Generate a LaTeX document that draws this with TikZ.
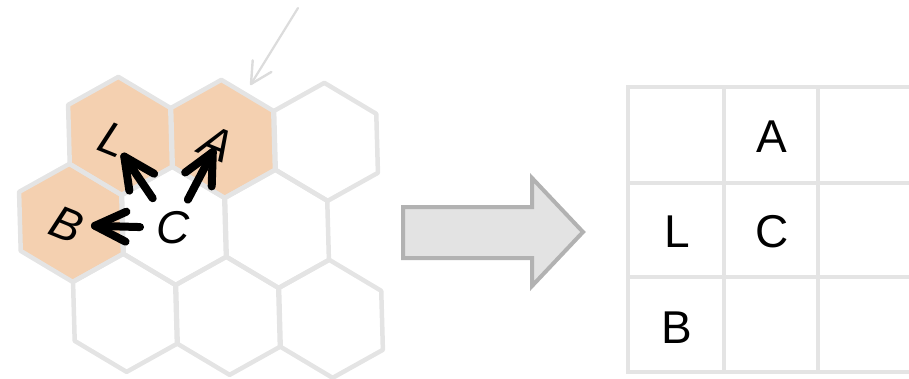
\documentclass[tikz,border=0pt]{standalone}
\usepackage{fontspec}
\setmainfont{Liberation Sans}
\usetikzlibrary{calc,decorations.markings}
\definecolor{hexgray}{HTML}{E4E4E4}
\definecolor{peach}{HTML}{F4D0B0}
\definecolor{thingray}{HTML}{DCDCDC}
\definecolor{blockfill}{HTML}{E3E3E3}
\definecolor{blockline}{HTML}{B2B2B2}
\tikzset{
  hexline/.style={draw=hexgray, line width=4.5pt, line join=round},
  hexfill/.style={fill=peach},
  hexlabel/.style={inner sep=0pt, font=\fontsize{46}{50}\selectfont\itshape, rotate=-22},
  clabel/.style={inner sep=0pt, font=\fontsize{46}{50}\selectfont\itshape},
  celllabel/.style={inner sep=0pt, font=\fontsize{46}{52}\selectfont},
  gridline/.style={draw=hexgray, line width=4pt},
  movearrow/.style={line width=8pt, line cap=round,
    postaction={decorate, decoration={markings, mark=at position 1 with {
      \draw[line width=8pt, line cap=round, line join=round] (-31pt,15pt) -- (0pt,0pt) -- (-31pt,-15pt);}}}},
  hintarrow/.style={draw=thingray, line width=2.2pt, line cap=round,
    postaction={decorate, decoration={markings, mark=at position 1 with {
      \draw[thingray, line width=2.4pt, line cap=round, line join=round] (-21pt,11pt) -- (0pt,0pt) -- (-21pt,-11pt);}}}},
  blockarrow/.style={fill=blockfill, draw=blockline, line width=4pt, line join=miter}
}
\begin{document}
\begin{tikzpicture}[x=1pt,y=-1pt]
\useasboundingbox (0,0) rectangle (909,378);
% hex grid (slightly skewed lattice)
\begin{scope}[x={(1pt,-0.029pt)}, y={(0.028pt,-1pt)}]
  \foreach \cu/\cv in {116.3/132.5, 219.3/132.5, 64.8/221}{
    \fill[hexfill, shift={(\cu,\cv)}] (30:59) -- (90:59) -- (150:59) -- (210:59) -- (270:59) -- (330:59) -- cycle;
  }
  \foreach \cu/\cv in {116.3/132.5, 219.3/132.5, 322.3/132.5,
                       64.8/221, 167.8/221, 270.8/221,
                       116.3/309.5, 219.3/309.5, 322.3/309.5}{
    \draw[hexline, shift={(\cu,\cv)}] (30:59) -- (90:59) -- (150:59) -- (210:59) -- (270:59) -- (330:59) -- cycle;
  }
\end{scope}
% hint arrow
\coordinate (hintstart) at (298,8);
\coordinate (hintend) at (251,84);
\draw[hintarrow] (hintstart) -- (hintend);
% hex labels
\node[hexlabel] (L) at (113,140) {L};
\node[hexlabel] (A) at (217,144) {A};
\node[hexlabel] (B) at (67,225) {B};
\node[clabel] (C) at (173,228) {C};
\draw[movearrow] ($(C.center)!36pt!(L.center)$) -- ($(L.center)!20pt!(C.center)$);
\draw[movearrow] ($(C.center)!32pt!(A.center)$) -- ($(A.center)!9pt!(C.center)$);
\draw[movearrow] ($(C.center)!33pt!(B.center)$) -- ($(B.center)!28pt!(C.center)$);
% block arrow
\draw[blockarrow] (403,207) -- (532,207) -- (532,178) -- (583,232) -- (532,286) -- (532,258) -- (403,258) -- cycle;
% right grid
\foreach \xx in {628,724,818}{
  \draw[gridline] (\xx,87) -- (\xx,372);
}
\foreach \yy in {87,183,277,372}{
  \draw[gridline] (626,\yy) -- (912,\yy);
}
\node[celllabel] (gA) at (772,137) {A};
\node[celllabel] (gL) at (677,232) {L};
\node[celllabel] (gC) at (772,232) {C};
\node[celllabel] (gB) at (677,328) {B};
\end{tikzpicture}
\end{document}
